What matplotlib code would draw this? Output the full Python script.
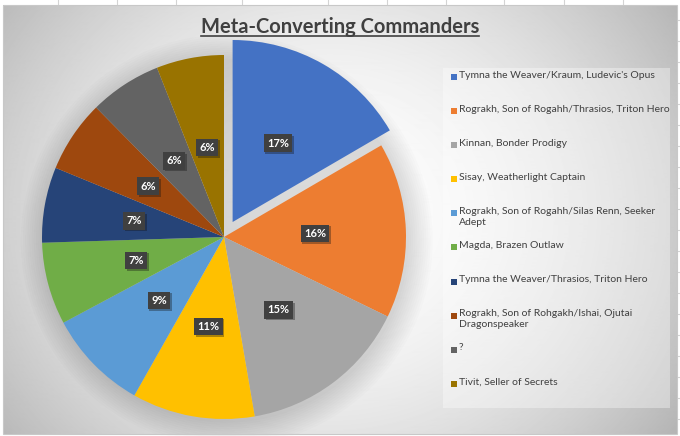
import numpy as np
import matplotlib.pyplot as plt
import matplotlib.patheffects as pe
from matplotlib.patches import Rectangle, Circle
from matplotlib.lines import Line2D

# chart data (percent shares)
commanders = [
    "Tymna the Weaver/Kraum, Ludevic's Opus",
    "Rograkh, Son of Rogahh/Thrasios, Triton Hero",
    "Kinnan, Bonder Prodigy",
    "Sisay, Weatherlight Captain",
    "Rograkh, Son of Rogahh/Silas Renn, Seeker\nAdept",
    "Magda, Brazen Outlaw",
    "Tymna the Weaver/Thrasios, Triton Hero",
    "Rograkh, Son of Rohgakh/Ishai, Ojutai\nDragonspeaker",
    "?",
    "Tivit, Seller of Secrets",
]
shares = [16.6, 15.6, 15.1, 10.9, 9.0, 7.3, 6.7, 6.4, 6.4, 6.0]
colors = ['#4472C4', '#ED7D31', '#A5A5A5', '#FFC000', '#5B9BD5',
          '#70AD47', '#264478', '#9E480E', '#636363', '#997300']
title = 'Meta-Converting Commanders'

W, H = 680, 436
FONT = 'Lato'


def box(x0, y0, x1, y1):
    # pixel box (top-left origin) -> figure fraction
    return [x0 / W, 1 - y1 / H, (x1 - x0) / W, (y1 - y0) / H]


def main():
    fig = plt.figure(figsize=(W / 100, H / 100), dpi=100)
    fig.patch.set_facecolor('white')

    # spreadsheet grid peeking out around the chart
    grid = fig.add_axes([0, 0, 1, 1])
    grid.set_xlim(0, W)
    grid.set_ylim(H, 0)
    grid.axis('off')
    for gx in [58, 117, 176, 242, 328, 387, 446, 504, 564, 623]:
        grid.plot([gx, gx], [0, 5], color='#d4d4d4', lw=0.8)
    for gy in range(20, H, 21):
        grid.plot([677, 680], [gy, gy], color='#d4d4d4', lw=0.8)

    # chart area with radial gradient
    bg = fig.add_axes(box(3, 5, 677, 434))
    yy, xx = np.mgrid[5:434, 3:677]
    d = np.sqrt(((xx - 330) / 1.0) ** 2 + ((yy - 215) / 0.9) ** 2)
    val = 1.0 - 0.22 * (d / 360.0) ** 1.8
    bg.imshow(np.clip(val, 0.7, 1.0), cmap='gray', vmin=0, vmax=1,
              aspect='auto', interpolation='bilinear')
    bg.axis('off')
    fig.add_artist(Rectangle((3 / W, 1 - 434 / H), 674 / W, 429 / H,
                             transform=fig.transFigure, fill=False,
                             edgecolor='#c8c8c8', lw=0.8))

    # pie
    R = 182 * 1.2
    ax = fig.add_axes(box(224 - R, 237 - R, 224 + R, 237 + R))
    for k in range(12):
        ax.add_patch(Circle((0.015, -0.02), 1.0 + 0.012 * k, color='black',
                            alpha=0.012, lw=0, zorder=0))
    explode = [0.095] + [0] * (len(shares) - 1)
    wedges, texts, autotexts = ax.pie(
        shares, colors=colors, explode=explode, startangle=90,
        counterclock=False, autopct='%.0f%%', pctdistance=0.5,
        wedgeprops=dict(linewidth=0))
    for t in autotexts:
        t.set_color('white')
        t.set_fontweight('bold')
        t.set_fontsize(8)
        t.set_fontfamily(FONT)
        t.set_bbox(dict(boxstyle='square,pad=0.3', facecolor='#404040',
                        edgecolor='none'))
        t.get_bbox_patch().set_path_effects(
            [pe.SimplePatchShadow(offset=(1.2, -1.2), alpha=0.35), pe.Normal()])
    ax.set_xlim(-1.2, 1.2)
    ax.set_ylim(-1.2, 1.2)
    ax.set_aspect('equal')
    ax.axis('off')

    # title with underline
    tt = fig.text(340 / W, 1 - 33 / H, title, ha='center', va='baseline',
                  fontsize=14.5, fontweight='bold', color='#404040', family=FONT)
    fig.canvas.draw()
    bb = tt.get_window_extent().transformed(fig.transFigure.inverted())
    fig.add_artist(Line2D([bb.x0, bb.x1], [1 - 36.5 / H, 1 - 36.5 / H],
                          transform=fig.transFigure, color='#404040', lw=1.2))

    # legend panel
    fig.add_artist(Rectangle((443 / W, 1 - 408 / H), 227 / W, 340 / H,
                             transform=fig.transFigure, facecolor='white',
                             alpha=0.35, edgecolor='none'))
    y0, step = 77, 34.1
    for i, (lab, c) in enumerate(zip(commanders, colors)):
        yc = y0 + i * step
        fig.add_artist(Rectangle((451 / W, 1 - (yc + 3) / H), 6 / W, 6 / H,
                                 transform=fig.transFigure, facecolor=c,
                                 edgecolor='none'))
        fig.text(459 / W, 1 - (yc - 6.5) / H, lab, ha='left', va='top',
                 fontsize=7.5, color='#404040', family=FONT, linespacing=1.3)

    fig.savefig('out.png', dpi=100)


if __name__ == "__main__":
    main()
